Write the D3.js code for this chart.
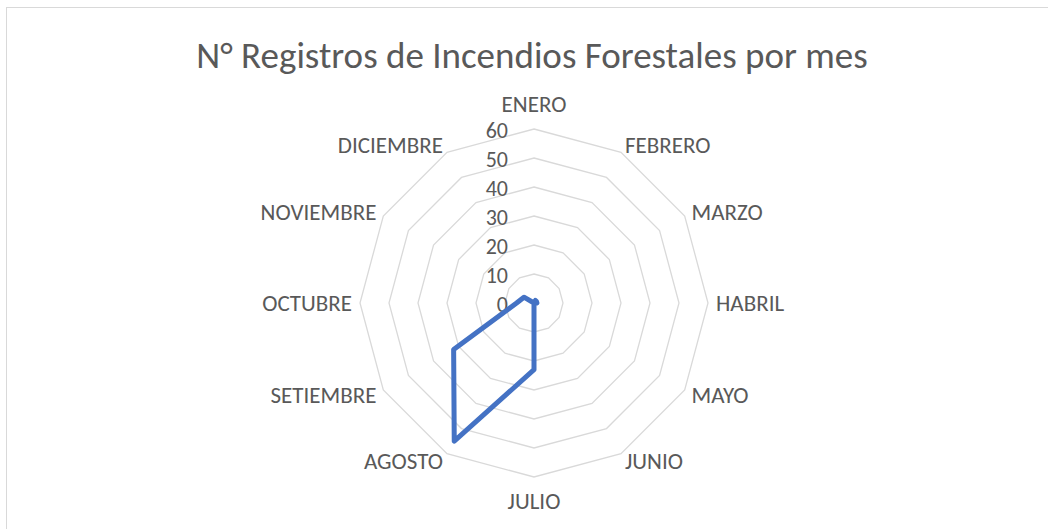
<!DOCTYPE html>
<html lang="es">
<head>
  <meta charset="UTF-8">
  <title>Incendios Forestales por mes</title>
  <script src="https://d3js.org/d3.v7.min.js"></script>
  <style>
    body { margin: 0; background: #fff; }
    svg { display: block; }
    text { font-family: Carlito, Calibri, Lato, sans-serif; fill: #595959; }
  </style>
</head>
<body>
  <svg width="1048" height="529"></svg>

  <script>
    const months = ["ENERO", "FEBRERO", "MARZO", "HABRIL", "MAYO", "JUNIO",
                    "JULIO", "AGOSTO", "SETIEMBRE", "OCTUBRE", "NOVIEMBRE", "DICIEMBRE"];
    const registros = [0, 1, 1, 1, 0, 0, 23, 55, 32, 6, 4, 0];
    const ticks = [0, 10, 20, 30, 40, 50, 60];
    const title = "N° Registros de Incendios Forestales por mes";

    const svg = d3.select("svg");
    const cx = 534, cy = 303, R = 174;

    // chart area border
    svg.append("rect")
      .attr("x", 6.5).attr("y", 7.5)
      .attr("width", 1060).attr("height", 540)
      .attr("fill", "#fff")
      .attr("stroke", "#d9d9d9");

    svg.append("text")
      .attr("x", cx - 2).attr("y", 55)
      .attr("text-anchor", "middle")
      .attr("dominant-baseline", "central")
      .attr("font-size", "37px")
      .attr("font-weight", 300)
      .text(title);

    const r = d3.scaleLinear().domain([0, 60]).range([0, R]);
    const angle = d3.scaleLinear().domain([0, months.length]).range([0, 2 * Math.PI]);
    const pt = (i, v) => [cx + r(v) * Math.sin(angle(i)), cy - r(v) * Math.cos(angle(i))];

    // rings
    const g = svg.append("g");
    g.selectAll("polygon.ring")
      .data(ticks.filter(t => t > 0))
      .enter().append("polygon")
      .attr("class", "ring")
      .attr("points", t => months.map((m, i) => pt(i, t).join(",")).join(" "))
      .attr("fill", "none")
      .attr("stroke", "#d9d9d9")
      .attr("stroke-width", 1.3);

    // tick labels
    g.selectAll("text.tick")
      .data(ticks)
      .enter().append("text")
      .attr("class", "tick")
      .attr("x", cx - 26)
      .attr("y", t => cy - r(t) + 1)
      .attr("text-anchor", "end")
      .attr("dominant-baseline", "central")
      .attr("font-size", "22px")
      .text(t => t);

    // month labels
    g.selectAll("text.month")
      .data(months)
      .enter().append("text")
      .attr("class", "month")
      .each(function(m, i) {
        const a = angle(i);
        const s = Math.sin(a), c = Math.cos(a);
        const [x, y] = pt(i, 60);
        let anchor = "middle", dx = s * 8, dy = -c * 9;
        if (s > 0.01) anchor = "start";
        else if (s < -0.01) anchor = "end";
        if (Math.abs(s) < 0.01) dy = c > 0 ? -25 : 24;
        d3.select(this)
          .attr("x", x + dx).attr("y", y + dy)
          .attr("text-anchor", anchor)
          .attr("dominant-baseline", "central")
          .attr("font-size", "23px")
          .text(m);
      });

    // series
    const line = d3.line().curve(d3.curveLinearClosed);
    svg.append("path")
      .attr("d", line(registros.map((v, i) => pt(i, v))))
      .attr("fill", "none")
      .attr("stroke", "#4472c4")
      .attr("stroke-width", 5)
      .attr("stroke-linejoin", "round");
  </script>
</body>
</html>
